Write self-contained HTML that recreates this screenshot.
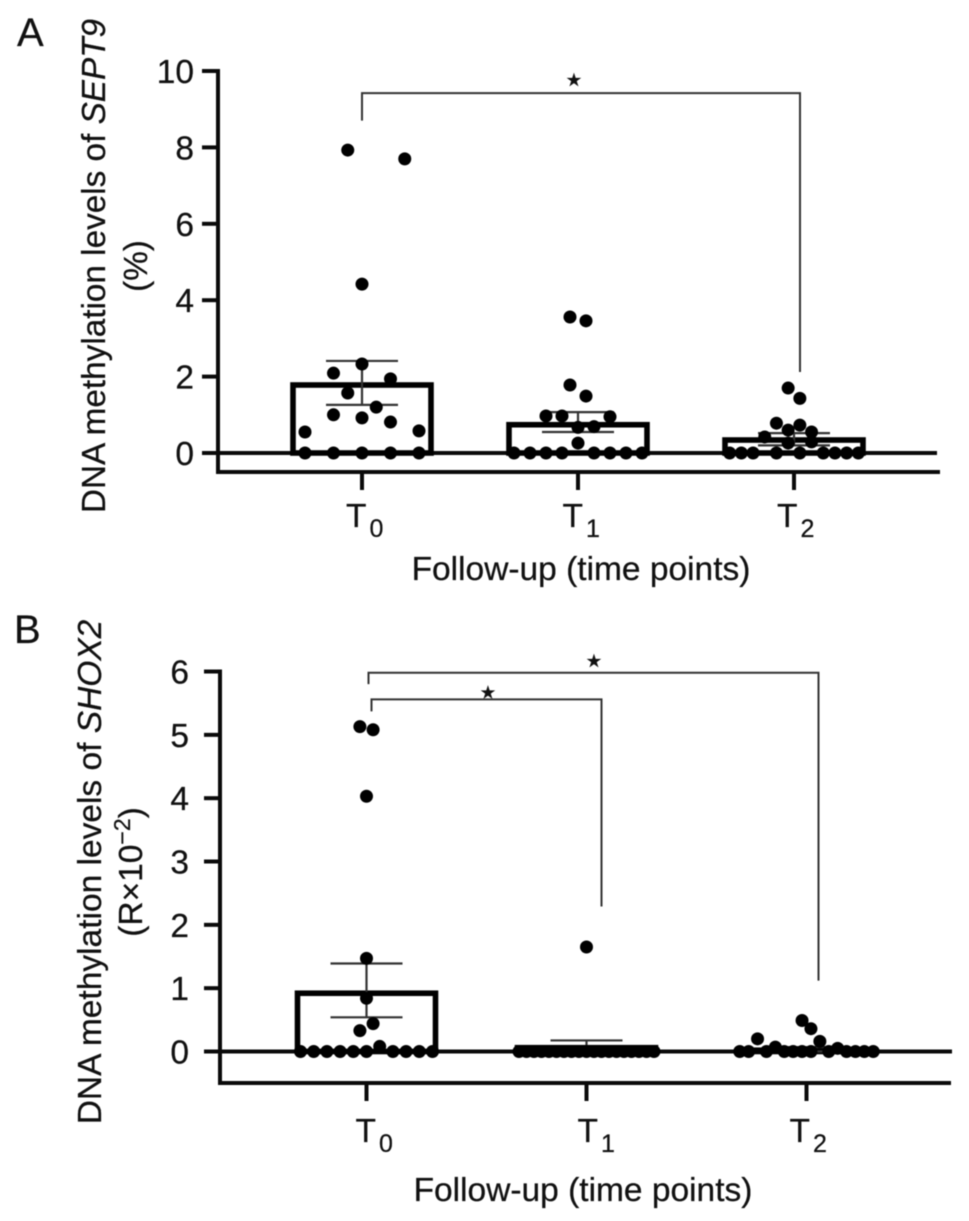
<!DOCTYPE html>
<html lang="en">
<head>
<meta charset="utf-8">
<title>DNA methylation levels of SEPT9 and SHOX2</title>
<style>
html,body{margin:0;padding:0;background:#fff;width:969px;height:1221px;overflow:hidden}
svg{display:block;filter:blur(0.45px)}
text{font-family:"Liberation Sans",sans-serif;fill:#111;stroke:#111;stroke-width:0.25px}
</style>
</head>
<body>
<svg id="figure" xmlns="http://www.w3.org/2000/svg" width="969" height="1221" viewBox="0 0 969 1221">
  <text x="17" y="46" font-size="40">A</text>
  <text x="14" y="643" font-size="40">B</text>

  <text transform="translate(105,266) rotate(-90)" text-anchor="middle" font-size="33.3">DNA methylation levels of <tspan font-style="italic">SEPT9</tspan></text>
  <text transform="translate(147,266) rotate(-90)" text-anchor="middle" font-size="33.3">(%)</text>
  <text x="581" y="580" text-anchor="middle" font-size="33.5">Follow-up (time points)</text>

  <text transform="translate(101,872) rotate(-90)" text-anchor="middle" font-size="33.5">DNA methylation levels of <tspan font-style="italic">SHOX2</tspan></text>
  <text transform="translate(142,872) rotate(-90)" text-anchor="middle" font-size="33.5">(R×10<tspan font-size="23" dy="-12">−2</tspan><tspan dy="12">)</tspan></text>
  <text x="583" y="1201" text-anchor="middle" font-size="33.5">Follow-up (time points)</text>
</svg>

<script>
// Shared categories
const categories = ['0', '1', '2'];

// Panel A (SEPT9) axis ticks
const ticksA = [0, 2, 4, 6, 8, 10];
// Panel A bar means and error limits per time point
const meansA = [1.78, 0.74, 0.34];
const errHighA = [2.41, 1.07, 0.52];
const errLowA = [1.26, 0.55, 0.2];
// Panel A individual samples: values, and swarm column of each sample
const a0Values = [7.93, 7.7, 4.42, 2.33, 2.09, 1.94, 1.57, 1.2, 1.0, 0.92, 0.81, 0.55, 0.58, 0, 0, 0, 0, 0];
const a0Columns = [-0.5, 1.5, 0, 0, -1, 1, -0.5, 0.5, -1, 0, 1, -2, 2, -2, -1, 0, 1, 2];
const a1Values = [3.56, 3.46, 1.78, 1.49, 0.97, 0.97, 0.95, 0.26, 0.67, 0.69, 0, 0, 0, 0, 0, 0, 0, 0];
const a1Columns = [-0.5, 0.5, -0.5, 0.5, -2, -1, 2, 0, 0, 1, -4, -3, -2, -1, 1, 2, 3, 4];
const a2Values = [1.7, 1.43, 0.78, 0.6, 0.73, 0.55, 0.42, 0.26, 0.29, 0, 0, 0, 0, 0, 0, 0, 0, 0];
const a2Columns = [-0.5, 0.5, -1.5, -0.5, 0.5, 1.5, -2.5, -0.5, 1.5, -5.5, -4.5, -3.5, -1.5, 0.5, 2.5, 3.5, 4.5, 5.5];

// Panel B (SHOX2) axis ticks
const ticksB = [0, 1, 2, 3, 4, 5, 6];
// Panel B bar means and error limits per time point
const meansB = [0.92, 0.06, 0.02];
const errHighB = [1.39, 0.175, 0.07];
const errLowB = [0.54, 0, 0];
// Panel B individual samples: values, and swarm column of each sample
const b0Values = [5.13, 5.08, 4.03, 1.47, 0.84, 0.44, 0.33, 0.08, 0, 0, 0, 0, 0, 0, 0, 0, 0, 0];
const b0Columns = [-0.5, 0.5, 0, 0, 0, 0.5, -0.5, 1, -5, -4, -3, -2, -1, 0, 2, 3, 4, 5];
const b1Values = [1.65, 0, 0, 0, 0, 0, 0, 0, 0, 0, 0, 0, 0, 0, 0, 0, 0, 0, 0, 0];
const b1Columns = [0, -9, -8, -7, -6, -5, -4, -3, -2, -1, 0, 1, 2, 3, 4, 5, 6, 7, 8, 9];
const b2Values = [0.49, 0.36, 0.2, 0.16, 0.07, 0.05, 0, 0, 0, 0, 0, 0, 0, 0, 0, 0, 0, 0];
const b2Columns = [-0.5, 0.5, -5.5, 1.5, -3.5, 3.5, -7.5, -6.5, -4.5, -2.5, -1.5, -0.5, 0.5, 2.5, 4.5, 5.5, 6.5, 7.5];

// Significance brackets: bar level and lower ends of each leg, in axis units
const bracketLevelsA = [9.42];
const bracketLeftEndsA = [8.7];
const bracketRightEndsA = [2.12];
const bracketLevelsB = [5.98, 5.56];
const bracketLeftEndsB = [5.8, 5.37];
const bracketRightEndsB = [1.12, 2.29];

const NS = 'http://www.w3.org/2000/svg';
const svg = document.getElementById('figure');

function make(tag, attrs, parent) {
  const el = document.createElementNS(NS, tag);
  for (const k in attrs) el.setAttribute(k, attrs[k]);
  (parent || svg).appendChild(el);
  return el;
}

function xAxisFn(start, step) { return i => start + i * step; }
function yAxisFn(zero, perUnit) { return v => zero - v * perUnit; }

const xA = xAxisFn(362, 216);
const yA = yAxisFn(453, 38.2);
const xB = xAxisFn(366.5, 220);
const yB = yAxisFn(1051.5, 63.33);

function drawPanel(p) {
  const id = p.id;
  const g = make('g', {});
  
  

  // y axis
  const yLine = make('line', {x1: p.axisX, x2: p.axisX, y1: p.y(p.yTicks[p.yTicks.length - 1]) - 2, y2: p.axisY + 2, stroke: '#0a0a0a', 'stroke-width': 4}, g);
  
  

  // x axis
  const xLine = make('line', {x1: p.axisX, x2: p.axisEnd, y1: p.axisY, y2: p.axisY, stroke: '#0a0a0a', 'stroke-width': 4}, g);
  
  

  // zero line
  const zero = make('line', {x1: p.axisX - 16, x2: p.zeroEnd, y1: p.y(0), y2: p.y(0), stroke: '#0a0a0a', 'stroke-width': 4}, g);
  
  

  // y ticks
  p.yTicks.forEach(t => {
    const tick = make('line', {x1: p.axisX - 16, x2: p.axisX, y1: p.y(t), y2: p.y(t), stroke: '#0a0a0a', 'stroke-width': 4}, g);
    
    
    const lab = make('text', {x: p.tickLabelX, y: p.y(t) + 12, 'text-anchor': 'end', 'font-size': 33.5}, g);
    lab.textContent = t;
    
    
  });

  // x ticks and labels
  categories.forEach((c, i) => {
    const tick = make('line', {x1: p.x(i), x2: p.x(i), y1: p.axisY, y2: p.axisY + 18, stroke: '#0a0a0a', 'stroke-width': 4}, g);
    
    
    const lab = make('text', {x: p.x(i) + p.labelOffsets[i], y: p.labelBaseline, 'font-size': 33.5}, g);
    
    
    const letter = make('tspan', {}, lab);
    letter.textContent = 'T';
    const sub = make('tspan', {dx: 3, dy: 10, 'font-size': 25}, lab);
    sub.textContent = c;
  });

  // bars
  p.means.forEach((m, i) => {
    const bar = make('rect', {x: p.x(i) - 69, y: p.y(m), width: 138, height: p.y(0) - p.y(m), fill: 'none', stroke: '#000', 'stroke-width': 5.6}, g);
    
    
  });

  // error bars
  p.errHigh.forEach((hi, i) => {
    const lo = p.errLow[i];
    const err = make('path', {
      d: 'M' + (p.x(i) - 36) + ' ' + p.y(hi) + 'H' + (p.x(i) + 36) +
         'M' + p.x(i) + ' ' + p.y(hi) + 'V' + p.y(lo) +
         'M' + (p.x(i) - 36) + ' ' + p.y(lo) + 'H' + (p.x(i) + 36),
      fill: 'none', stroke: '#333', 'stroke-width': 2.2}, g);
    
    
  });

  // samples
  p.samples.forEach((s, i) => {
    s.values.forEach((v, k) => {
      const dot = make('circle', {cx: p.x(i) + s.columns[k] * p.columnWidths[i], cy: p.y(v), r: 6.5, fill: '#000'}, g);
      
      
    });
  });

  // brackets
  p.brackets.forEach((b, n) => {
    const path = make('path', {
      d: 'M' + b.xLeft + ' ' + p.y(b.leftEnd) + 'V' + p.y(b.level) + 'H' + b.xRight + 'V' + p.y(b.rightEnd),
      fill: 'none', stroke: '#333', 'stroke-width': 2}, g);
    
    
    const star = make('text', {x: b.xStar, y: p.y(b.level) + b.starDy, 'text-anchor': 'middle', 'font-size': 18, style: 'font-family:"DejaVu Sans",sans-serif'}, g);
    star.textContent = '★';
    
    
  });
}

drawPanel({
  id: 'a', x: xA, y: yA, axisX: 218, axisY: 472, axisEnd: 940, zeroEnd: 937, tickLabelX: 194,
  yTicks: ticksA, means: meansA, errHigh: errHighA, errLow: errLowA,
  labelOffsets: [-16, -15.5, -17], labelBaseline: 527,
  columnWidths: [28.5, 16, 11.7],
  samples: [{values: a0Values, columns: a0Columns}, {values: a1Values, columns: a1Columns}, {values: a2Values, columns: a2Columns}],
  brackets: [{level: bracketLevelsA[0], leftEnd: bracketLeftEndsA[0], rightEnd: bracketRightEndsA[0], xLeft: xA(0), xRight: xA(2) + 6, xStar: 574, starDy: -7}]
});

drawPanel({
  id: 'b', x: xB, y: yB, axisX: 220, axisY: 1083, axisEnd: 951, zeroEnd: 952, tickLabelX: 189,
  yTicks: ticksB, means: meansB, errHigh: errHighB, errLow: errLowB,
  labelOffsets: [-11, -9, -17], labelBaseline: 1142,
  columnWidths: [13.2, 7.5, 8.9],
  samples: [{values: b0Values, columns: b0Columns}, {values: b1Values, columns: b1Columns}, {values: b2Values, columns: b2Columns}],
  brackets: [
    {level: bracketLevelsB[0], leftEnd: bracketLeftEndsB[0], rightEnd: bracketRightEndsB[0], xLeft: xB(0) + 2, xRight: xB(2) + 12, xStar: 594, starDy: -6},
    {level: bracketLevelsB[1], leftEnd: bracketLeftEndsB[1], rightEnd: bracketRightEndsB[1], xLeft: xB(0) + 5, xRight: xB(1) + 15, xStar: 488, starDy: -1}
  ]
});
</script>
</body>
</html>
